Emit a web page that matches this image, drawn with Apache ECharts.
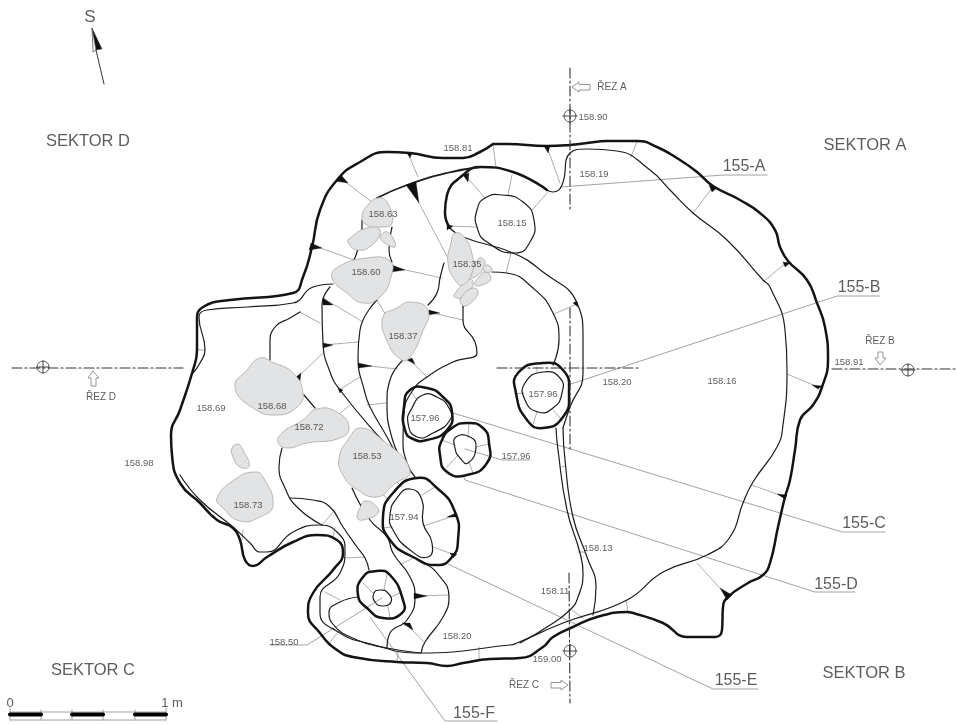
<!DOCTYPE html>
<html><head><meta charset="utf-8">
<style>html,body{margin:0;padding:0;background:#fff}#c{width:957px;height:725px}</style>
<script src="https://cdn.jsdelivr.net/npm/echarts@6/dist/echarts.min.js"></script>
</head><body><div id="c"></div>
<script>
// ---------- plan data, in plan units (origin top-left) ----------
const outerContour=[[493,144],[507,144],[547,146],[570,145],[587,143],[607,141],[637,141],[657,147],[680,160],[697,172],[713,186],[740,200],[760,213],[775,230],[780,247],[788,261],[807,280],[817,303],[825,327],[828,360],[822,387],[813,405],[800,420],[795,450],[790,480],[785,497],[778,527],[770,563],[763,575],[748,583],[728,597],[723,607],[722,630],[715,637],[697,637],[687,637],[663,623],[633,613],[627,612],[597,617],[573,627],[553,637],[543,647],[520,658],[490,659],[463,663],[447,666],[427,663],[397,662],[353,657],[337,650],[320,633],[308,613],[313,593],[333,570],[343,553],[337,540],[317,535],[293,542],[267,557],[253,566],[245,560],[240,540],[233,528],[217,520],[200,503],[180,483],[172,455],[171,435],[180,410],[193,370],[197,350],[197,320],[203,307],[230,300],[293,293],[303,277],[312,247],[320,210],[337,180],[360,162],[387,152],[410,153],[443,158],[463,158],[480,152],[493,144]];
const pitUpperThick=[[547,190],[513,172],[480,167],[463,175],[447,195],[445,213],[450,228]];
const ledgeUpper=[[480,167],[447,173],[407,185],[377,198]];
const pitRight=[[543,363],[563,370],[569,393],[563,417],[543,428],[527,420],[516,393],[518,373]];
const pitLeft=[[410,390],[427,388],[443,397],[452,412],[447,430],[427,440],[413,439],[405,430],[404,407]];
const pitMiddle=[[467,423],[483,428],[489,443],[487,463],[467,475],[447,472],[440,455],[442,440],[452,428]];
const pitLower=[[417,478],[437,488],[455,512],[458,540],[452,557],[437,565],[413,557],[390,540],[383,517],[393,493]];
const pitSmall=[[377,571],[390,575],[403,600],[402,613],[383,618],[367,608],[358,595],[363,577]];
const thickLines=[outerContour,pitUpperThick];
const thickRings=[pitRight,pitLeft,pitMiddle,pitLower,pitSmall];

const innerLeft=[[333,284],[313,287],[293,303],[247,307],[207,310],[199,317],[205,350],[200,363],[193,373]];
const innerLong=[[180,475],[200,500],[233,527],[250,543],[260,552],[267,552],[293,532],[320,525],[340,535],[345,550],[340,573],[320,597],[320,613],[340,633],[367,643],[420,653],[510,645],[517,643],[563,623],[627,600],[663,572],[707,555],[730,537],[743,503],[753,482],[777,447],[783,425],[787,370],[785,330],[770,287],[763,280],[727,240],[693,213],[670,190],[650,170],[617,151],[587,149],[570,153],[562,185],[553,192],[547,190]];
const pitArc=[[450,228],[463,237],[513,253],[543,272],[577,303],[583,337],[583,373],[570,407],[563,428]];
const channelLeft=[[556,428],[558,450],[567,510],[580,553],[583,573],[578,597],[570,610],[547,627],[520,643]];
const channelRight=[[563,428],[565,460],[573,517],[587,557],[596,587],[593,615]];
const pitOutline15=[[485,198],[502,195],[523,202],[534,220],[530,242],[515,253],[487,242],[477,227],[477,210]];
const arcInner=[[492,272],[507,273],[533,288],[553,313],[559,340],[553,365]];
const ridge1=[[330,287],[322,305],[323,343],[330,372],[340,390],[380,438],[408,468]];
const ridge2=[[377,300],[360,330],[358,357],[365,393],[370,407],[387,437],[395,452]];
const ridge3=[[403,360],[390,380],[387,403],[392,438],[403,463],[410,472]];
const ridge4=[[444,263],[440,278],[437,293],[428,305]];
const ridge5=[[463,307],[463,320],[475,342],[477,353],[453,362],[427,377],[413,390],[404,413],[403,440],[407,463],[415,477]];
const ridge6=[[300,312],[290,318],[275,327],[270,343],[270,360]];
const ridge7=[[304,395],[315,408]];
const ridge8=[[282,448],[279,467],[285,488],[297,507],[322,525]];
const ridge9=[[290,498],[313,500],[330,507],[343,527],[357,547],[365,558],[369,570]];
const ridge10=[[352,488],[370,520],[387,537],[393,553],[410,577],[415,597],[407,620],[390,633],[387,648]];
const ridge11=[[423,563],[437,573],[449,597],[443,617],[425,642],[421,653]];
const ridge12=[[358,597],[340,602],[329,612],[332,623],[357,640],[387,648],[420,653]];
const ridge13=[[362,220],[362,230],[357,252],[354,260]];
const ridge14=[[392,227],[389,250],[392,262]];
const ridge15=[[463,307],[463,296]];
const pitInnerRight=[[543,372],[560,378],[562,393],[553,408],[538,412],[525,400],[525,383]];
const pitInnerLeft=[[423,395],[437,397],[449,408],[450,420],[433,433],[417,437],[408,423],[412,408]];
const pitInnerMiddle=[[456,437],[470,437],[476,447],[468,463],[460,458],[455,448]];
const pitInnerLower=[[410,489],[422,500],[423,523],[432,543],[428,557],[410,550],[393,530],[390,515],[397,498]];
const pitInnerSmall=[[380,590],[388,593],[391,602],[383,606],[375,602],[374,593]];
const mediumLines=[innerLeft,innerLong,pitArc,channelLeft,channelRight,arcInner,ridge1,ridge2,ridge3,ridge4,ridge5,ridge6,ridge7,ridge8,ridge9,ridge10,ridge11,ridge12,ridge13,ridge14,ridge15];
const mediumRings=[pitOutline15,pitInnerRight,pitInnerLeft,pitInnerMiddle,pitInnerLower,pitInnerSmall];

const hachures=[[[340,178],[372,202]],[[312,245],[354,260]],[[408,153],[418,177]],[[419,203],[448,258]],[[392,267],[442,278]],[[323,298],[363,322]],[[428,312],[463,320]],[[300,312],[320,323]],[[323,345],[358,342]],[[360,365],[397,369]],[[297,378],[323,353]],[[339,390],[360,377]],[[367,405],[386,403]],[[408,358],[427,377]],[[338,415],[350,405]],[[377,300],[386,315]],
[[493,145],[496,167]],[[547,147],[560,183]],[[465,175],[485,198]],[[512,175],[508,195]],[[548,192],[532,210]],[[448,226],[476,227]],[[511,253],[506,273]],[[577,304],[554,314]],[[637,142],[631,157]],[[713,187],[693,213]],[[787,262],[763,282]],[[818,387],[787,374]],[[785,497],[752,485]],[[728,597],[697,563]],[[628,612],[626,600]],[[572,610],[583,618]],[[479,647],[479,660]],[[562,467],[565,466]],
[[397,662],[398,652]],[[328,645],[338,632]],[[242,540],[243,530]],[[322,525],[335,510]],[[333,537],[335,528]],[[345,558],[365,557]],[[325,592],[340,600]],[[405,623],[424,642]],[[415,596],[449,595]],[[400,565],[413,558]],[[433,547],[455,555]],[[423,526],[457,515]],[[422,495],[435,487]],[[383,528],[392,527]],[[397,482],[402,487]],[[382,493],[388,500]],
[[515,394],[524,393]],[[537,367],[537,372]],[[537,412],[532,427]],[[553,410],[562,420]],[[412,393],[417,400]],[[469,423],[468,437]],[[442,440],[455,445]],[[489,444],[476,447]],[[447,467],[458,455]],[[473,473],[469,462]],[[387,574],[384,590]],[[363,583],[373,593]],[[402,592],[391,597]],[[388,607],[390,617]],[[197,350],[205,350]]];

const wedges=[[[335,181],[342,176],[348,183]],[[311,243],[309,250],[322,248]],[[407,153],[412,153],[410,158]],[[406,185],[416,182],[419,203]],[[392,265],[391,272],[405,270]],[[323,298],[323,305],[333,305]],[[429,310],[428,315],[440,313]],[[323,343],[323,348],[333,345]],[[358,363],[359,368],[372,366]],[[295,378],[301,373],[300,381]],[[407,360],[412,358],[415,364]],[[338,388],[343,390],[340,393]],[[544,146],[550,146],[548,153]],[[463,175],[469,173],[468,182]],[[447,225],[447,230],[453,226]],[[709,185],[717,188],[712,192]],[[783,262],[790,263],[785,267]],[[812,385],[822,386],[818,389]],[[777,494],[787,495],[785,499]],[[720,588],[732,595],[727,600]],[[414,593],[414,599],[427,596]],[[402,623],[410,623],[413,630]],[[450,553],[457,554],[453,558]],[[447,517],[456,513],[457,517]],[[573,303],[577,301],[578,307]]];

const stones=[
[[378,198],[387,202],[392,223],[380,227],[367,225],[362,217],[368,205]],
[[350,238],[367,228],[380,230],[372,245],[357,250],[348,242]],
[[388,232],[395,247],[380,238]],
[[367,258],[390,261],[391,277],[380,297],[363,303],[347,293],[332,278],[338,267]],
[[410,302],[428,310],[422,333],[410,357],[402,360],[388,343],[383,317],[397,308]],
[[480,258],[485,263],[478,275],[471,277],[473,267]],
[[487,265],[492,269],[487,273],[483,268]],
[[485,272],[491,278],[485,284],[475,285],[479,277]],
[[470,279],[473,285],[463,297],[457,298],[454,295]],
[[473,288],[478,293],[468,305],[462,305],[461,298]],
[[455,233],[465,238],[473,258],[473,270],[463,285],[455,280],[448,263],[451,243]],
[[260,358],[272,362],[293,373],[303,393],[297,407],[277,415],[253,408],[235,387],[247,370]],
[[317,409],[337,412],[349,427],[340,438],[307,443],[287,448],[278,442],[283,432],[303,420]],
[[360,428],[380,438],[410,470],[393,485],[377,497],[355,488],[343,475],[339,458],[350,437]],
[[238,444],[243,450],[249,466],[240,467],[233,457],[232,448]],
[[255,472],[263,477],[273,505],[260,517],[240,521],[223,508],[217,498],[237,478]],
[[366,501],[377,507],[378,513],[370,518],[358,519],[360,508]]];

const leaderA=[[561,187],[723,175],[767,175]];
const leaderB=[[568,385],[837,296],[880,296]];
const leaderC=[[453,413],[842,532],[885,532]];
const leaderD=[[463,475],[465,480],[815,592],[855,592]];
const leaderE=[[448,564],[713,689],[758,689]];
const leaderF=[[370,617],[445,721],[497,721]];
const leader150=[[382,598],[307,645],[270,645]];
const leader796=[[465,449],[502,460],[530,460]];
const leader813=[[578,552],[585,552]];
const leaders=[leaderA,leaderB,leaderC,leaderD,leaderE,leaderF,leader150,leader796,leader813];

const sectionLines=[[[570,68],[570,209]],[[570,308],[570,450]],[[569,573],[570,703]],[[12,368],[183,368]],[[497,368],[638,368]],[[832,369],[957,369]]];
const crossLines=[[[570,109],[570,123]],[[563,116],[577,116]],[[37,367],[49,367]],[[43,361],[43,373]],[[901,370],[915,370]],[[908,364],[908,376]],[[563,651],[577,651]],[[570,644],[570,658]]];
const datumMarks=[[43,367],[570,116],[908,370],[570,651]];

const hollowArrows=[
[[572,87],[579,82],[579,84.5],[590,84.5],[590,90],[579,90],[579,92]],
[[880,365],[875,358],[878,358],[878,352],[883,352],[883,358],[886,358]],
[[93,371],[88,378],[91,378],[91,386],[96,386],[96,378],[99,378]],
[[568,685],[561,680],[561,682.5],[551,682.5],[551,688],[561,688],[561,690]]];

const northLine=[[96,50],[104,84]];
const northDark=[[92,28],[102,49],[96,50]];
const northLight=[[92,28],[96,50],[93,52]];

const scaleDark=[[[10,714.5],[41,714.5]],[[72,714.5],[103,714.5]],[[135,714.5],[166,714.5]]];
const scaleFrame=[[[10,720],[166,720]],[[10,712],[166,712]],[[10,708],[10,720]],[[41,710],[41,720]],[[72,710],[72,720]],[[103,710],[103,720]],[[135,710],[135,720]],[[166,708],[166,720]]];

const elevationLabels=[[458,148,'158.81'],[594,174,'158.19'],[593,117,'158.90'],[383,214,'158.63'],[512,223,'158.15'],[467,264,'158.35'],[366,272,'158.60'],[403,336,'158.37'],[211,408,'158.69'],[272,406,'158.68'],[309,427,'158.72'],[367,456,'158.53'],[248,505,'158.73'],[139,463,'158.98'],[425,418,'157.96'],[543,394,'157.96'],[516,456,'157.96'],[404,517,'157.94'],[617,382,'158.20'],[722,381,'158.16'],[849,362,'158.91'],[598,548,'158.13'],[555,591,'158.11'],[547,659,'159.00'],[457,636,'158.20'],[284,642,'158.50']];
const sectionLabels=[[612,87,'ŘEZ A'],[880,341,'ŘEZ B'],[101,397,'ŘEZ D'],[524,685,'ŘEZ C']];
const sectorLabels=[[88,141,'SEKTOR D'],[865,145,'SEKTOR A'],[864,673,'SEKTOR B'],[93,670,'SEKTOR C']];
const featureLabels=[[744,167,'155-A'],[859,288,'155-B'],[864,524,'155-C'],[836,585,'155-D'],[736,681,'155-E'],[474,714,'155-F']];
const scaleLabels=[[10,703,'0'],[172,703,'1 m']];
const compassLabel=[[90,17,'S']];

// ---------- series builders ----------
const series=[];
function lines(list,width,color,z,smooth,type){
  list.forEach(d=>series.push({type:'line',data:d,symbol:'none',smooth:smooth,silent:true,animation:false,clip:false,z:z,
    lineStyle:{width:width,color:color,type:type||'solid',cap:'round',join:'round'}}));
}
function polys(list,fill,stroke,lw,z,smooth){
  series.push({type:'custom',coordinateSystem:'cartesian2d',silent:true,animation:false,clip:false,z:z,
    data:list.map((p,i)=>[p[0][0],p[0][1],i]),
    renderItem:(params,api)=>({type:'polygon',
      shape:{points:list[api.value(2)].map(p=>api.coord(p)),smooth:smooth},
      style:{fill:fill,stroke:stroke,lineWidth:lw}})});
}
function texts(list,size,color,z){
  series.push({type:'scatter',data:list,symbolSize:1,silent:true,animation:false,clip:false,z:z,
    itemStyle:{color:'transparent'},
    label:{show:true,position:'inside',formatter:p=>p.data[2],fontFamily:'Liberation Sans',fontSize:size,color:color}});
}
lines(leaders,0.8,'#8a8a8a',1,false);
lines(hachures,0.7,'#8a8a8a',1,false);
lines(mediumLines,1.2,'#1c1c1c',2,0.5);
polys(mediumRings,'none','#1c1c1c',1.2,2,0.55);
lines(thickLines,2.5,'#141414',3,0.5);
polys(thickRings,'none','#141414',2.5,3,0.55);
lines([ledgeUpper],1.8,'#1c1c1c',3,0.5);
polys(wedges,'#111','#111',0.3,4,0);
polys(stones,'#e2e3e5','#a8a8a8',0.8,5,0.5);
lines(sectionLines,1.1,'#333',6,false,[10,3,2,3]);
lines(crossLines,0.9,'#333',6,false);
series.push({type:'scatter',data:datumMarks,symbol:'circle',symbolSize:12,silent:true,animation:false,z:6,
  itemStyle:{color:'transparent',borderColor:'#333',borderWidth:1}});
polys(hollowArrows,'#fff','#8a8a8a',0.9,6,0);
lines([northLine],1,'#333',6,false);
polys([northDark],'#111','#111',0.3,6,0);
polys([northLight],'#fff','#444',0.7,6,0);
lines(scaleFrame,0.8,'#8a8a8a',6,false);
lines(scaleDark,4,'#000',7,false);
texts(elevationLabels,9.5,'#333',8);
texts(sectionLabels,10,'#333',8);
texts(sectorLabels,16.5,'#333',8);
texts(featureLabels,16,'#333',8);
texts(scaleLabels,13,'#333',8);
texts(compassLabel,17,'#333',8);

const chart=echarts.init(document.getElementById('c'),null,{renderer:'canvas'});
chart.setOption({animation:false,backgroundColor:'#fff',
  grid:{left:0,right:0,top:0,bottom:0},
  xAxis:{type:'value',min:0,max:957,show:false},
  yAxis:{type:'value',min:0,max:725,inverse:true,show:false},
  series:series});
</script></body></html>
